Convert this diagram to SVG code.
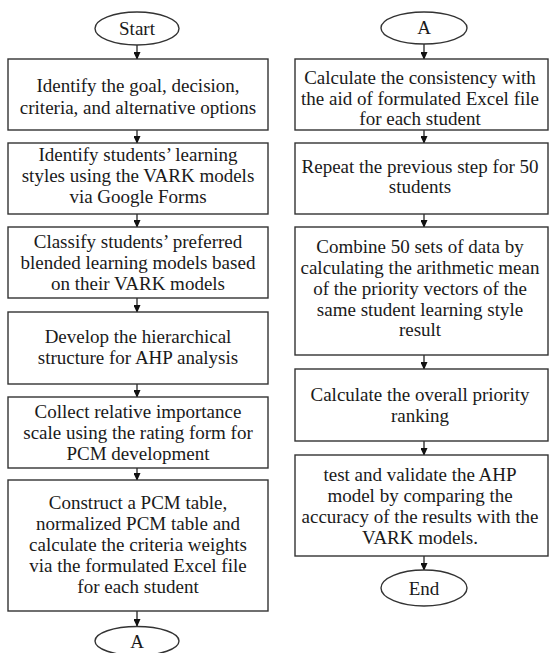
<svg xmlns="http://www.w3.org/2000/svg" width="549" height="653" viewBox="0 0 549 653">
<defs>
<marker id="arr" markerWidth="8" markerHeight="7" refX="7" refY="3.5" orient="auto" markerUnits="userSpaceOnUse">
<path d="M0,0 L8,3.5 L0,7 Z" fill="#111"/>
</marker>
<style>
.b{fill:#fff;stroke:#333;stroke-width:1.4}
.t{font-family:"Liberation Serif","Times New Roman",serif;font-size:19px;fill:#1a1a1a;text-anchor:middle}
.c{stroke:#111;stroke-width:1.2;fill:none;marker-end:url(#arr)}
</style>
</defs>
<rect width="549" height="653" fill="#fff"/>
<g id="connectors">
<line class="c" x1="137" y1="45" x2="137" y2="59"/>
<line class="c" x1="137" y1="130" x2="137" y2="143"/>
<line class="c" x1="137" y1="214" x2="137" y2="227"/>
<line class="c" x1="137" y1="298" x2="137" y2="312"/>
<line class="c" x1="137" y1="384" x2="137" y2="397"/>
<line class="c" x1="137" y1="468" x2="137" y2="480"/>
<line class="c" x1="137" y1="611" x2="137" y2="626"/>
<line class="c" x1="424" y1="44" x2="424" y2="59"/>
<line class="c" x1="424" y1="130" x2="424" y2="143"/>
<line class="c" x1="424" y1="214" x2="424" y2="227"/>
<line class="c" x1="424" y1="355" x2="424" y2="369"/>
<line class="c" x1="424" y1="441" x2="424" y2="455"/>
<line class="c" x1="424" y1="556" x2="424" y2="570"/>
</g>
<g id="start">
<ellipse class="b" cx="137" cy="28.5" rx="42" ry="16.5"/>
<text class="t" x="137" y="35">Start</text>
</g>
<g id="step1">
<rect class="b" x="8" y="59" width="260" height="71"/>
<text class="t" x="138" y="92">Identify the goal, decision,</text>
<text class="t" x="138" y="114">criteria, and alternative options</text>
</g>
<g id="step2">
<rect class="b" x="8" y="143" width="260" height="71"/>
<text class="t" x="138" y="161">Identify students’ learning</text>
<text class="t" x="138" y="182">styles using the VARK models</text>
<text class="t" x="138" y="203">via Google Forms</text>
</g>
<g id="step3">
<rect class="b" x="8" y="227" width="260" height="71"/>
<text class="t" x="138" y="248">Classify students’ preferred</text>
<text class="t" x="138" y="269">blended learning models based</text>
<text class="t" x="138" y="290">on their VARK models</text>
</g>
<g id="step4">
<rect class="b" x="8" y="312" width="260" height="72"/>
<text class="t" x="138" y="343">Develop the hierarchical</text>
<text class="t" x="138" y="364">structure for AHP analysis</text>
</g>
<g id="step5">
<rect class="b" x="8" y="397" width="260" height="71"/>
<text class="t" x="138" y="418">Collect relative importance</text>
<text class="t" x="138" y="439">scale using the rating form for</text>
<text class="t" x="138" y="460">PCM development</text>
</g>
<g id="step6">
<rect class="b" x="8" y="480" width="260" height="131"/>
<text class="t" x="138" y="509">Construct a PCM table,</text>
<text class="t" x="138" y="530">normalized PCM table and</text>
<text class="t" x="138" y="551">calculate the criteria weights</text>
<text class="t" x="138" y="572">via the formulated Excel file</text>
<text class="t" x="138" y="593">for each student</text>
</g>
<g id="connectorA1">
<ellipse class="b" cx="137" cy="641" rx="42" ry="14.5"/>
<text class="t" x="137" y="648">A</text>
</g>
<g id="connectorA2">
<ellipse class="b" cx="424" cy="28" rx="43" ry="16"/>
<text class="t" x="424" y="34">A</text>
</g>
<g id="step7">
<rect class="b" x="295" y="59" width="253" height="71"/>
<text class="t" x="420" y="84">Calculate the consistency with</text>
<text class="t" x="420" y="105">the aid of formulated Excel file</text>
<text class="t" x="420" y="125">for each student</text>
</g>
<g id="step8">
<rect class="b" x="295" y="143" width="253" height="71"/>
<text class="t" x="420" y="173">Repeat the previous step for 50</text>
<text class="t" x="420" y="193">students</text>
</g>
<g id="step9">
<rect class="b" x="295" y="227" width="253" height="128"/>
<text class="t" x="420" y="253">Combine 50 sets of data by</text>
<text class="t" x="420" y="274">calculating the arithmetic mean</text>
<text class="t" x="420" y="295">of the priority vectors of the</text>
<text class="t" x="420" y="316">same student learning style</text>
<text class="t" x="420" y="336">result</text>
</g>
<g id="step10">
<rect class="b" x="295" y="369" width="253" height="72"/>
<text class="t" x="420" y="401">Calculate the overall priority</text>
<text class="t" x="420" y="422">ranking</text>
</g>
<g id="step11">
<rect class="b" x="295" y="455" width="253" height="101"/>
<text class="t" x="420" y="481">test and validate the AHP</text>
<text class="t" x="420" y="502">model by comparing the</text>
<text class="t" x="420" y="523">accuracy of the results with the</text>
<text class="t" x="420" y="544">VARK models.</text>
</g>
<g id="end">
<ellipse class="b" cx="424" cy="588" rx="43" ry="18"/>
<text class="t" x="424" y="595">End</text>
</g>
</svg>
